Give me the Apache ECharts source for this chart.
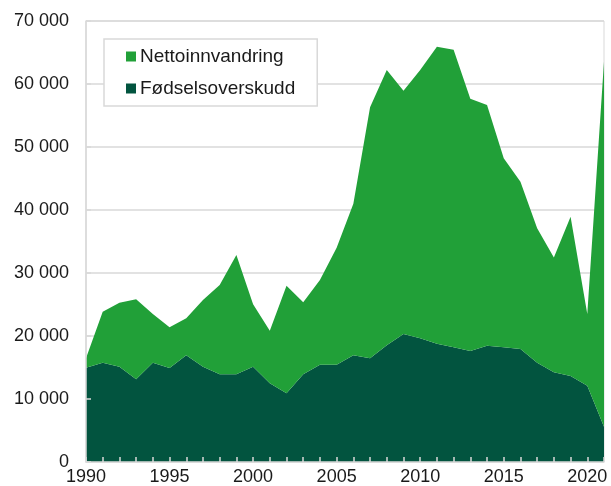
<!DOCTYPE html>
<html>
<head>
<meta charset="utf-8">
<script src="https://cdn.jsdelivr.net/npm/echarts@6/dist/echarts.min.js"></script>
<style>
  html, body { margin: 0; padding: 0; background: #fff; }
  #chart { width: 611px; height: 486px; }
</style>
</head>
<body>
<div id="chart"></div>
<script>
// Årlig befolkningsvekst fordelt på komponent, 1990–2021
const years = [];
for (let y = 1990; y <= 2021; y++) years.push(String(y));

const fodselsoverskudd = [
  14970, 15760, 15130, 13120, 15760, 14920, 16930, 15130, 13910, 13910,
  15130, 12490, 10900, 13910, 15450, 15450, 16930, 16450, 18520, 20310,
  19630, 18780, 18200, 17620, 18460, 18200, 17930, 15760, 14230, 13650,
  12110, 5600
];

const nettoinnvandring = [
  1480, 8090, 10160, 12700, 7740, 6450, 5870, 10580, 14180, 18940,
  9900, 8350, 17080, 11430, 13450, 18550, 24070, 39840, 43690, 38620,
  42580, 47130, 47240, 40040, 38200, 30000, 26560, 21340, 18250, 25280,
  11380, 57930
];

const yTicks = { min: 0, max: 70000, interval: 10000 };

const lightGreen = '#21a038';
const darkGreen = '#02543f';
const gray = '#d9d9d9';
const font = 'Liberation Sans, Arial, sans-serif';

const fmt = v => String(v).replace(/\B(?=(\d{3})+(?!\d))/g, ' ');

const chart = echarts.init(document.getElementById('chart'), null, { renderer: 'canvas' });

chart.setOption({
  animation: false,
  backgroundColor: '#fff',
  textStyle: { fontFamily: font },
  grid: {
    left: 86, right: 7, top: 21, bottom: 24,
    show: true, borderColor: gray, borderWidth: 1, containLabel: false
  },
  legend: {
    orient: 'vertical',
    left: 104, top: 39,
    padding: [8, 22, 8, 22],
    backgroundColor: '#fff',
    borderColor: gray, borderWidth: 1.5,
    itemWidth: 10, itemHeight: 10, itemGap: 13,
    icon: 'rect',
    textStyle: { fontFamily: font, fontSize: 19, color: '#1a1a1a', lineHeight: 19, padding: [0, 0, 0, -1] },
    data: ['Nettoinnvandring', 'Fødselsoverskudd']
  },
  xAxis: {
    type: 'category',
    data: years,
    boundaryGap: false,
    z: 10,
    axisLine: { lineStyle: { color: gray, width: 1.5 } },
    axisTick: { inside: true, length: 5, interval: 0, lineStyle: { color: gray, width: 1.5 } },
    axisLabel: {
      interval: (i, v) => Number(v) % 5 === 0,
      color: '#1a1a1a', fontSize: 18, fontFamily: font, margin: 6
    },
    splitLine: { show: false }
  },
  yAxis: [
    {
      type: 'value',
      min: yTicks.min, max: yTicks.max, interval: yTicks.interval,
      z: 10,
      axisLine: { show: true, lineStyle: { color: gray, width: 1.5 } },
      axisTick: { show: true, inside: true, length: 5, lineStyle: { color: gray, width: 1.5 } },
      axisLabel: { formatter: fmt, color: '#1a1a1a', fontSize: 18, fontFamily: font, margin: 17 },
      splitLine: { show: false }
    },
    {
      type: 'value',
      min: yTicks.min, max: yTicks.max, interval: yTicks.interval,
      z: 0,
      axisLine: { show: false },
      axisTick: { show: false },
      axisLabel: { show: false },
      splitLine: { show: true, lineStyle: { color: gray, width: 1.5 } }
    }
  ],
  series: [
    {
      name: 'Fødselsoverskudd',
      type: 'line',
      stack: 'total',
      data: fodselsoverskudd,
      symbol: 'none',
      lineStyle: { width: 0 },
      itemStyle: { color: darkGreen },
      areaStyle: { color: darkGreen, opacity: 1 }
    },
    {
      name: 'Nettoinnvandring',
      type: 'line',
      stack: 'total',
      data: nettoinnvandring,
      symbol: 'none',
      lineStyle: { width: 0 },
      itemStyle: { color: lightGreen },
      areaStyle: { color: lightGreen, opacity: 1 }
    }
  ]
});
</script>
</body>
</html>
